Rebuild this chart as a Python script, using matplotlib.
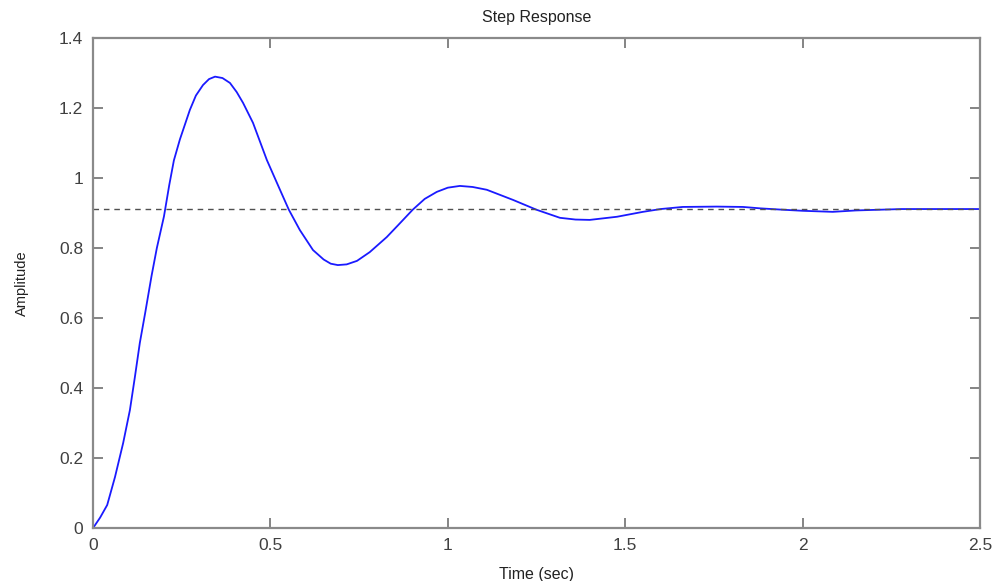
import matplotlib.pyplot as plt

# step response (time in sec, amplitude)
time = [0, 0.02, 0.04, 0.062, 0.085, 0.104, 0.118, 0.132, 0.147, 0.165, 0.18,
        0.2, 0.215, 0.228, 0.245, 0.26, 0.273, 0.29, 0.31, 0.327, 0.344, 0.365,
        0.386, 0.405, 0.423, 0.451, 0.49, 0.527, 0.552, 0.583, 0.62, 0.65,
        0.67, 0.69, 0.715, 0.744, 0.78, 0.828, 0.86, 0.901, 0.935, 0.969, 1.0,
        1.034, 1.07, 1.11, 1.184, 1.25, 1.316, 1.36, 1.4, 1.477, 1.55, 1.6,
        1.662, 1.758, 1.832, 1.88, 1.945, 2.0, 2.085, 2.15, 2.28, 2.5]
amplitude = [0, 0.03, 0.066, 0.146, 0.243, 0.337, 0.431, 0.529, 0.614, 0.72, 0.8,
             0.89, 0.98, 1.05, 1.11, 1.155, 1.194, 1.235, 1.265, 1.282, 1.289, 1.285,
             1.271, 1.245, 1.214, 1.157, 1.051, 0.966, 0.909, 0.851, 0.794, 0.767,
             0.755, 0.751, 0.753, 0.763, 0.788, 0.831, 0.865, 0.909, 0.94, 0.96, 0.972,
             0.977, 0.974, 0.966, 0.937, 0.909, 0.886, 0.881, 0.88, 0.889, 0.903, 0.911,
             0.917, 0.918, 0.917, 0.913, 0.909, 0.906, 0.903, 0.907, 0.911, 0.911]
steady_state = 0.911

xticks = [0, 0.5, 1, 1.5, 2, 2.5]
xticklabels = ['0', '0.5', '1', '1.5', '2', '2.5']
yticks = [0, 0.2, 0.4, 0.6, 0.8, 1, 1.2, 1.4]
yticklabels = ['0', '0.2', '0.4', '0.6', '0.8', '1', '1.2', '1.4']

plt.rcParams['font.family'] = ['Liberation Sans', 'DejaVu Sans']

fig = plt.figure(figsize=(10, 5.81), dpi=100)
ax = fig.add_axes([0.093, 0.091, 0.887, 0.844])

ax.plot(time, amplitude, color='#1a1aff', lw=1.3)
ax.axhline(steady_state, color='#505050', lw=1.0, ls=(0, (4, 3.5)))

ax.set_xlim(0, 2.5)
ax.set_ylim(0, 1.4)
ax.set_xticks(xticks)
ax.set_xticklabels(xticklabels)
ax.set_yticks(yticks)
ax.set_yticklabels(yticklabels)

for s in ax.spines.values():
    s.set_color('#8a8a8a')
    s.set_linewidth(1.6)
ax.tick_params(direction='in', length=7, width=1.2, color='#707070',
               labelcolor='#404040', labelsize=12.5, top=True, right=True, pad=7)

ax.set_title('Step Response', fontsize=11.5, color='#222222', pad=11)
ax.set_xlabel('Time (sec)', fontsize=11.5, color='#222222', labelpad=10)
ax.set_ylabel('Amplitude', fontsize=10.5, color='#222222', labelpad=22)

fig.savefig('out.png', dpi=100)
plt.close(fig)
